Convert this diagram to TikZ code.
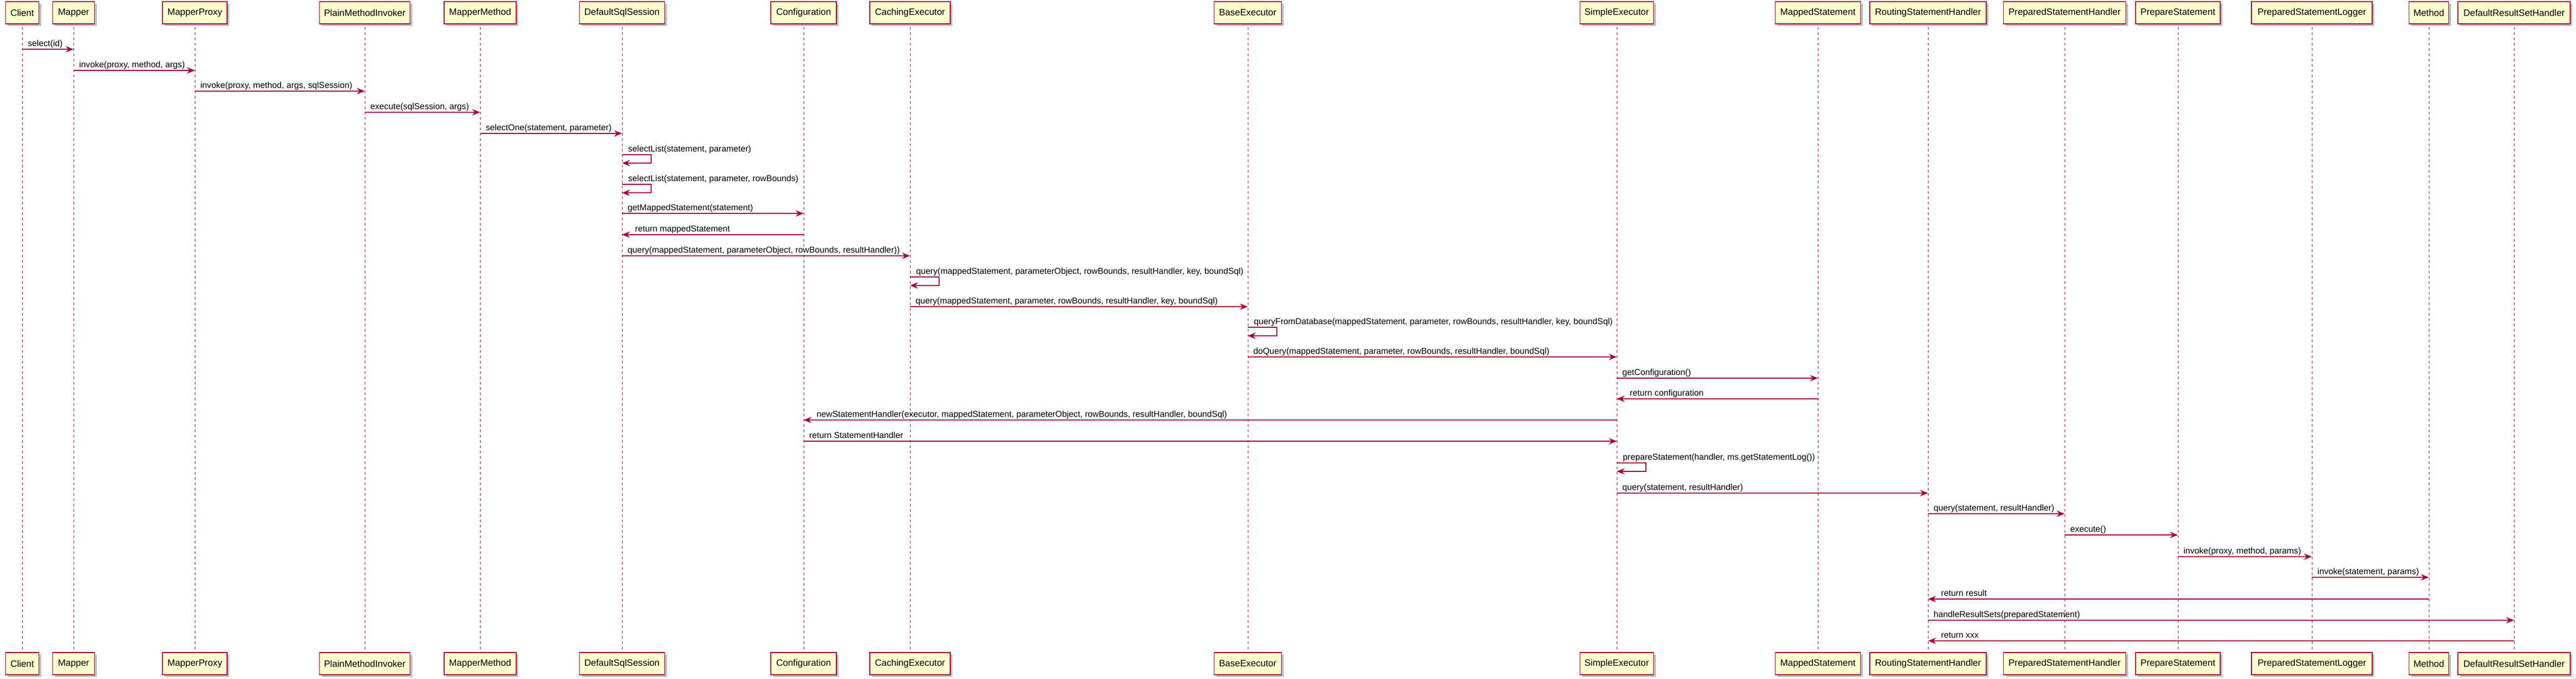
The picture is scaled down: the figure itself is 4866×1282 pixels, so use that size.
\documentclass[tikz,border=0pt]{standalone}
\usepackage{fontspec}
\setmainfont{Liberation Sans}
\usepackage{xcolor}
\usepackage{tikz}
\usetikzlibrary{arrows.meta}
\usetikzlibrary{shadows}
\definecolor{umlred}{HTML}{A80036}
\definecolor{umlfill}{HTML}{FEFECE}
\tikzstyle{part} = [draw=umlred, fill=umlfill, line width=1.5pt, minimum height=42pt, inner xsep=6pt, font=\fontsize{17.4}{20}\selectfont, drop shadow={shadow xshift=4pt, shadow yshift=-4pt, fill=black, opacity=0.25}]
\tikzstyle{life} = [umlred, line width=1pt, dash pattern=on 5pt off 5pt]
\tikzstyle{msg} = [umlred, line width=1.2pt, -{Stealth[length=15pt,width=12pt,inset=5pt]}]
\tikzstyle{lbl} = [black, anchor=base west, inner sep=0pt, yshift=6pt, font=\fontsize{16.2}{19}\selectfont]

\begin{document}
\begin{tikzpicture}[x=1pt, y=-1pt]
    \path[use as bounding box, fill=white] (0,0) rectangle (4866,1282);

    % top boxes
    \node[part, minimum width=63pt]  (client)  at (42,24)   {Client};
    \node[part, minimum width=79pt]  (mapper)  at (139,24)  {Mapper};
    \node[part, minimum width=122pt] (proxy)   at (368,24)  {MapperProxy};
    \node[part, minimum width=171pt] (invoker) at (689,24)  {PlainMethodInvoker};
    \node[part, minimum width=136pt] (mmethod) at (907,24)  {MapperMethod};
    \node[part, minimum width=161pt] (session) at (1175,24) {DefaultSqlSession};
    \node[part, minimum width=124pt] (config)  at (1518,24) {Configuration};
    \node[part, minimum width=152pt] (caching) at (1719,24) {CachingExecutor};
    \node[part, minimum width=127pt] (base)    at (2357,24) {BaseExecutor};
    \node[part, minimum width=139pt] (simple)  at (3054,24) {SimpleExecutor};
    \node[part, minimum width=161pt] (mstmt)   at (3434,24) {MappedStatement};
    \node[part, minimum width=220pt] (routing) at (3642,24) {RoutingStatementHandler};
    \node[part, minimum width=231pt] (psh)     at (3900,24) {PreparedStatementHandler};
    \node[part, minimum width=160pt] (prepst)  at (4114,24) {PrepareStatement};
    \node[part, minimum width=228pt] (psl)     at (4367,24) {PreparedStatementLogger};
    \node[part, minimum width=75pt]  (method)  at (4588,24) {Method};
    \node[part, minimum width=212pt] (drsh)    at (4749,24) {DefaultResultSetHandler};

    % bottom boxes
    \node[part, minimum width=63pt]  (client-b)  at (42,1253)   {Client};
    \node[part, minimum width=79pt]  (mapper-b)  at (139,1253)  {Mapper};
    \node[part, minimum width=122pt] (proxy-b)   at (368,1253)  {MapperProxy};
    \node[part, minimum width=171pt] (invoker-b) at (689,1253)  {PlainMethodInvoker};
    \node[part, minimum width=136pt] (mmethod-b) at (907,1253)  {MapperMethod};
    \node[part, minimum width=161pt] (session-b) at (1175,1253) {DefaultSqlSession};
    \node[part, minimum width=124pt] (config-b)  at (1518,1253) {Configuration};
    \node[part, minimum width=152pt] (caching-b) at (1719,1253) {CachingExecutor};
    \node[part, minimum width=127pt] (base-b)    at (2357,1253) {BaseExecutor};
    \node[part, minimum width=139pt] (simple-b)  at (3054,1253) {SimpleExecutor};
    \node[part, minimum width=161pt] (mstmt-b)   at (3434,1253) {MappedStatement};
    \node[part, minimum width=220pt] (routing-b) at (3642,1253) {RoutingStatementHandler};
    \node[part, minimum width=231pt] (psh-b)     at (3900,1253) {PreparedStatementHandler};
    \node[part, minimum width=160pt] (prepst-b)  at (4114,1253) {PrepareStatement};
    \node[part, minimum width=228pt] (psl-b)     at (4367,1253) {PreparedStatementLogger};
    \node[part, minimum width=75pt]  (method-b)  at (4588,1253) {Method};
    \node[part, minimum width=212pt] (drsh-b)    at (4749,1253) {DefaultResultSetHandler};

    % lifelines
    \draw[life] ([yshift=-5pt]client.south)  to (client-b.north);
    \draw[life] ([yshift=-5pt]mapper.south)  to (mapper-b.north);
    \draw[life] ([yshift=-5pt]proxy.south)   to (proxy-b.north);
    \draw[life] ([yshift=-5pt]invoker.south) to (invoker-b.north);
    \draw[life] ([yshift=-5pt]mmethod.south) to (mmethod-b.north);
    \draw[life] ([yshift=-5pt]session.south) to (session-b.north);
    \draw[life] ([yshift=-5pt]config.south)  to (config-b.north);
    \draw[life] ([yshift=-5pt]caching.south) to (caching-b.north);
    \draw[life] ([yshift=-5pt]base.south)    to (base-b.north);
    \draw[life] ([yshift=-5pt]simple.south)  to (simple-b.north);
    \draw[life] ([yshift=-5pt]mstmt.south)   to (mstmt-b.north);
    \draw[life] ([yshift=-5pt]routing.south) to (routing-b.north);
    \draw[life] ([yshift=-5pt]psh.south)     to (psh-b.north);
    \draw[life] ([yshift=-5pt]prepst.south)  to (prepst-b.north);
    \draw[life] ([yshift=-5pt]psl.south)     to (psl-b.north);
    \draw[life] ([yshift=-5pt]method.south)  to (method-b.north);
    \draw[life] ([yshift=-5pt]drsh.south)    to (drsh-b.north);

    % messages
    \draw[msg] (client |- 0,93) -- node[lbl, pos=0, xshift=10pt]{select(id)} (mapper |- 0,93);
    \draw[msg] (mapper |- 0,133) -- node[lbl, pos=0, xshift=10pt]{invoke(proxy, method, args)} (proxy |- 0,133);
    \draw[msg] (proxy |- 0,172) -- node[lbl, pos=0, xshift=10pt]{invoke(proxy, method, args, sqlSession)} (invoker |- 0,172);
    \draw[msg] (invoker |- 0,212) -- node[lbl, pos=0, xshift=10pt]{execute(sqlSession, args)} (mmethod |- 0,212);
    \draw[msg] (mmethod |- 0,252) -- node[lbl, pos=0, xshift=10pt]{selectOne(statement, parameter)} (session |- 0,252);
    \draw[msg] (session |- 0,292) node[lbl, xshift=11pt]{selectList(statement, parameter)} -- ++(55,0) -- ++(0,16) -- ++(-55,0);
    \draw[msg] (session |- 0,348) node[lbl, xshift=11pt]{selectList(statement, parameter, rowBounds)} -- ++(55,0) -- ++(0,16) -- ++(-55,0);
    \draw[msg] (session |- 0,403) -- node[lbl, pos=0, xshift=10pt]{getMappedStatement(statement)} (config |- 0,403);
    \draw[msg] (config |- 0,443) -- node[lbl, pos=1, xshift=24pt]{return mappedStatement} (session |- 0,443);
    \draw[msg] (session |- 0,483) -- node[lbl, pos=0, xshift=10pt]{query(mappedStatement, parameterObject, rowBounds, resultHandler))} (caching |- 0,483);
    \draw[msg] (caching |- 0,523) node[lbl, xshift=11pt]{query(mappedStatement, parameterObject, rowBounds, resultHandler, key, boundSql)} -- ++(55,0) -- ++(0,16) -- ++(-55,0);
    \draw[msg] (caching |- 0,579) -- node[lbl, pos=0, xshift=10pt]{query(mappedStatement, parameter, rowBounds, resultHandler, key, boundSql)} (base |- 0,579);
    \draw[msg] (base |- 0,618) node[lbl, xshift=11pt]{queryFromDatabase(mappedStatement, parameter, rowBounds, resultHandler, key, boundSql)} -- ++(55,0) -- ++(0,16) -- ++(-55,0);
    \draw[msg] (base |- 0,674) -- node[lbl, pos=0, xshift=10pt]{doQuery(mappedStatement, parameter, rowBounds, resultHandler, boundSql)} (simple |- 0,674);
    \draw[msg] (simple |- 0,714) -- node[lbl, pos=0, xshift=10pt]{getConfiguration()} (mstmt |- 0,714);
    \draw[msg] (mstmt |- 0,753) -- node[lbl, pos=1, xshift=24pt]{return configuration} (simple |- 0,753);
    \draw[msg] (simple |- 0,793) -- node[lbl, pos=1, xshift=24pt]{newStatementHandler(executor, mappedStatement, parameterObject, rowBounds, resultHandler, boundSql)} (config |- 0,793);
    \draw[msg] (config |- 0,833) -- node[lbl, pos=0, xshift=10pt]{return StatementHandler} (simple |- 0,833);
    \draw[msg] (simple |- 0,874) node[lbl, xshift=11pt]{prepareStatement(handler, ms.getStatementLog())} -- ++(55,0) -- ++(0,16) -- ++(-55,0);
    \draw[msg] (simple |- 0,931) -- node[lbl, pos=0, xshift=10pt]{query(statement, resultHandler)} (routing |- 0,931);
    \draw[msg] (routing |- 0,970) -- node[lbl, pos=0, xshift=10pt]{query(statement, resultHandler)} (psh |- 0,970);
    \draw[msg] (psh |- 0,1010) -- node[lbl, pos=0, xshift=10pt]{execute()} (prepst |- 0,1010);
    \draw[msg] (prepst |- 0,1051) -- node[lbl, pos=0, xshift=10pt]{invoke(proxy, method, params)} (psl |- 0,1051);
    \draw[msg] (psl |- 0,1090) -- node[lbl, pos=0, xshift=10pt]{invoke(statement, params)} (method |- 0,1090);
    \draw[msg] (method |- 0,1131) -- node[lbl, pos=1, xshift=24pt]{return result} (routing |- 0,1131);
    \draw[msg] (routing |- 0,1171) -- node[lbl, pos=0, xshift=10pt]{handleResultSets(preparedStatement)} (drsh |- 0,1171);
    \draw[msg] (drsh |- 0,1210) -- node[lbl, pos=1, xshift=24pt]{return xxx} (routing |- 0,1210);

\end{tikzpicture}
\end{document}
